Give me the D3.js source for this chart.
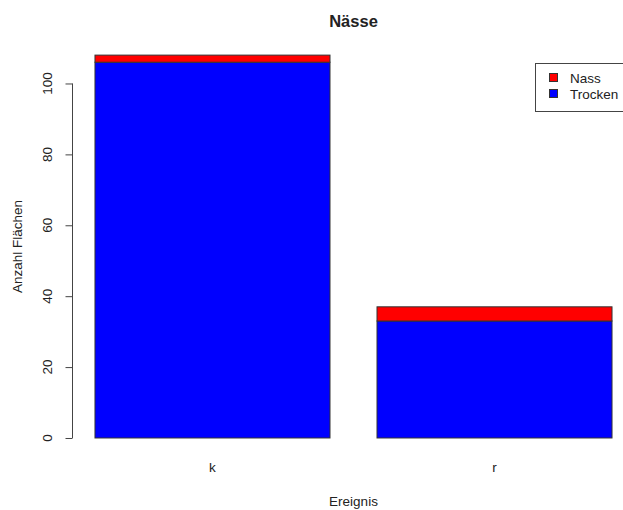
<!DOCTYPE html>
<html>
<head>
<meta charset="utf-8">
<script src="https://cdn.jsdelivr.net/npm/d3@7"></script>
<style>
  body { margin: 0; background: #fff; }
  text { font-family: "Liberation Sans", Arial, sans-serif; fill: #222; }
</style>
</head>
<body>
<div id="chart"></div>
<script>
/* Data */
var categories = ['k', 'r'];
var trocken = [106, 33];
var nass = [2, 4];
var seriesNames = ['Nass', 'Trocken'];
var seriesColors = { Nass: '#ff0000', Trocken: '#0000ff' };
var yTicks = [0, 20, 40, 60, 80, 100];

var width = 623, height = 510;
var fs = '13.5px';

var svg = d3.select('#chart').append('svg')
  .attr('width', width)
  .attr('height', height)
  .style('display', 'block');

/* R-style barplot: width 1, space 0.2, 4% axis extension */
var totals = categories.map(function (c, i) { return trocken[i] + nass[i]; });
var xLo = 0.2, xHi = 0.2 + categories.length * 1.2 - 0.2;
var xPad = (xHi - xLo) * 0.04;
var x = d3.scaleLinear().domain([xLo - xPad, xHi + xPad]).range([74.3, 632.7]);
var yMax = d3.max(totals);
var y = d3.scaleLinear().domain([-yMax * 0.04, yMax * 1.04]).range([453.3, 39.8]);

var stacked = categories.map(function (c, i) {
  var left = 0.2 + i * 1.2;
  return [
    { cat: c, series: 'Trocken', x0: left, y0: 0, y1: trocken[i] },
    { cat: c, series: 'Nass', x0: left, y0: trocken[i], y1: trocken[i] + nass[i] }
  ];
});

var g = svg.append('g');

g.selectAll('.bar')
  .data(d3.merge(stacked))
  .join('rect')
  .attr('class', 'bar')
  .attr('x', function (d) { return x(d.x0); })
  .attr('width', function (d) { return x(d.x0 + 1) - x(d.x0); })
  .attr('y', function (d) { return y(d.y1); })
  .attr('height', function (d) { return y(d.y0) - y(d.y1); })
  .attr('fill', function (d) { return seriesColors[d.series]; })
  .attr('stroke', '#333')
  .attr('stroke-width', 1);

/* Category labels */
g.selectAll('.cat')
  .data(categories)
  .join('text')
  .attr('class', 'cat')
  .attr('x', function (d, i) { return x(0.2 + i * 1.2 + 0.5); })
  .attr('y', 472)
  .attr('text-anchor', 'middle')
  .attr('font-size', fs)
  .text(function (d) { return d; });

/* Y axis */
var axisX = 72.5;
var yAxis = svg.append('g')
  .attr('transform', 'translate(' + axisX + ',0)')
  .call(d3.axisLeft(y).tickValues(yTicks).tickSize(7).tickPadding(0).tickFormat(''));
yAxis.selectAll('.domain').remove();
yAxis.selectAll('.tick line').attr('stroke', '#444');
yAxis.append('line')
  .attr('x1', 0).attr('x2', 0)
  .attr('y1', y(yTicks[0])).attr('y2', y(yTicks[yTicks.length - 1]))
  .attr('stroke', '#444');

svg.selectAll('.ytick')
  .data(yTicks)
  .join('text')
  .attr('class', 'ytick')
  .attr('transform', function (d) { return 'translate(52,' + y(d) + ') rotate(-90)'; })
  .attr('text-anchor', 'middle')
  .attr('font-size', fs)
  .text(function (d) { return d; });

/* Titles */
svg.append('text')
  .attr('x', (x.range()[0] + x.range()[1]) / 2)
  .attr('y', 26.5)
  .attr('text-anchor', 'middle')
  .attr('font-size', '16.5px')
  .attr('font-weight', 'bold')
  .text('Nässe');

svg.append('text')
  .attr('x', (x.range()[0] + x.range()[1]) / 2)
  .attr('y', 506)
  .attr('text-anchor', 'middle')
  .attr('font-size', fs)
  .text('Ereignis');

svg.append('text')
  .attr('transform', 'translate(21.5,' + (y.range()[0] + y.range()[1]) / 2 + ') rotate(-90)')
  .attr('text-anchor', 'middle')
  .attr('font-size', fs)
  .text('Anzahl Flächen');

/* Legend */
var legend = svg.append('g').attr('transform', 'translate(535,63)');
legend.append('rect')
  .attr('x', 0.5).attr('y', 0.5)
  .attr('width', 100).attr('height', 48)
  .attr('fill', '#fff')
  .attr('stroke', '#444');
legend.selectAll('.lg')
  .data(seriesNames)
  .join('g')
  .attr('class', 'lg')
  .attr('transform', function (d, i) { return 'translate(14,' + (15 + i * 16) + ')'; })
  .each(function (d) {
    var e = d3.select(this);
    e.append('rect')
      .attr('x', 0.5).attr('y', -4.5)
      .attr('width', 8).attr('height', 8)
      .attr('fill', seriesColors[d])
      .attr('stroke', '#333');
    e.append('text')
      .attr('x', 21)
      .attr('y', 5)
      .attr('font-size', fs)
      .text(d);
  });
</script>
</body>
</html>
